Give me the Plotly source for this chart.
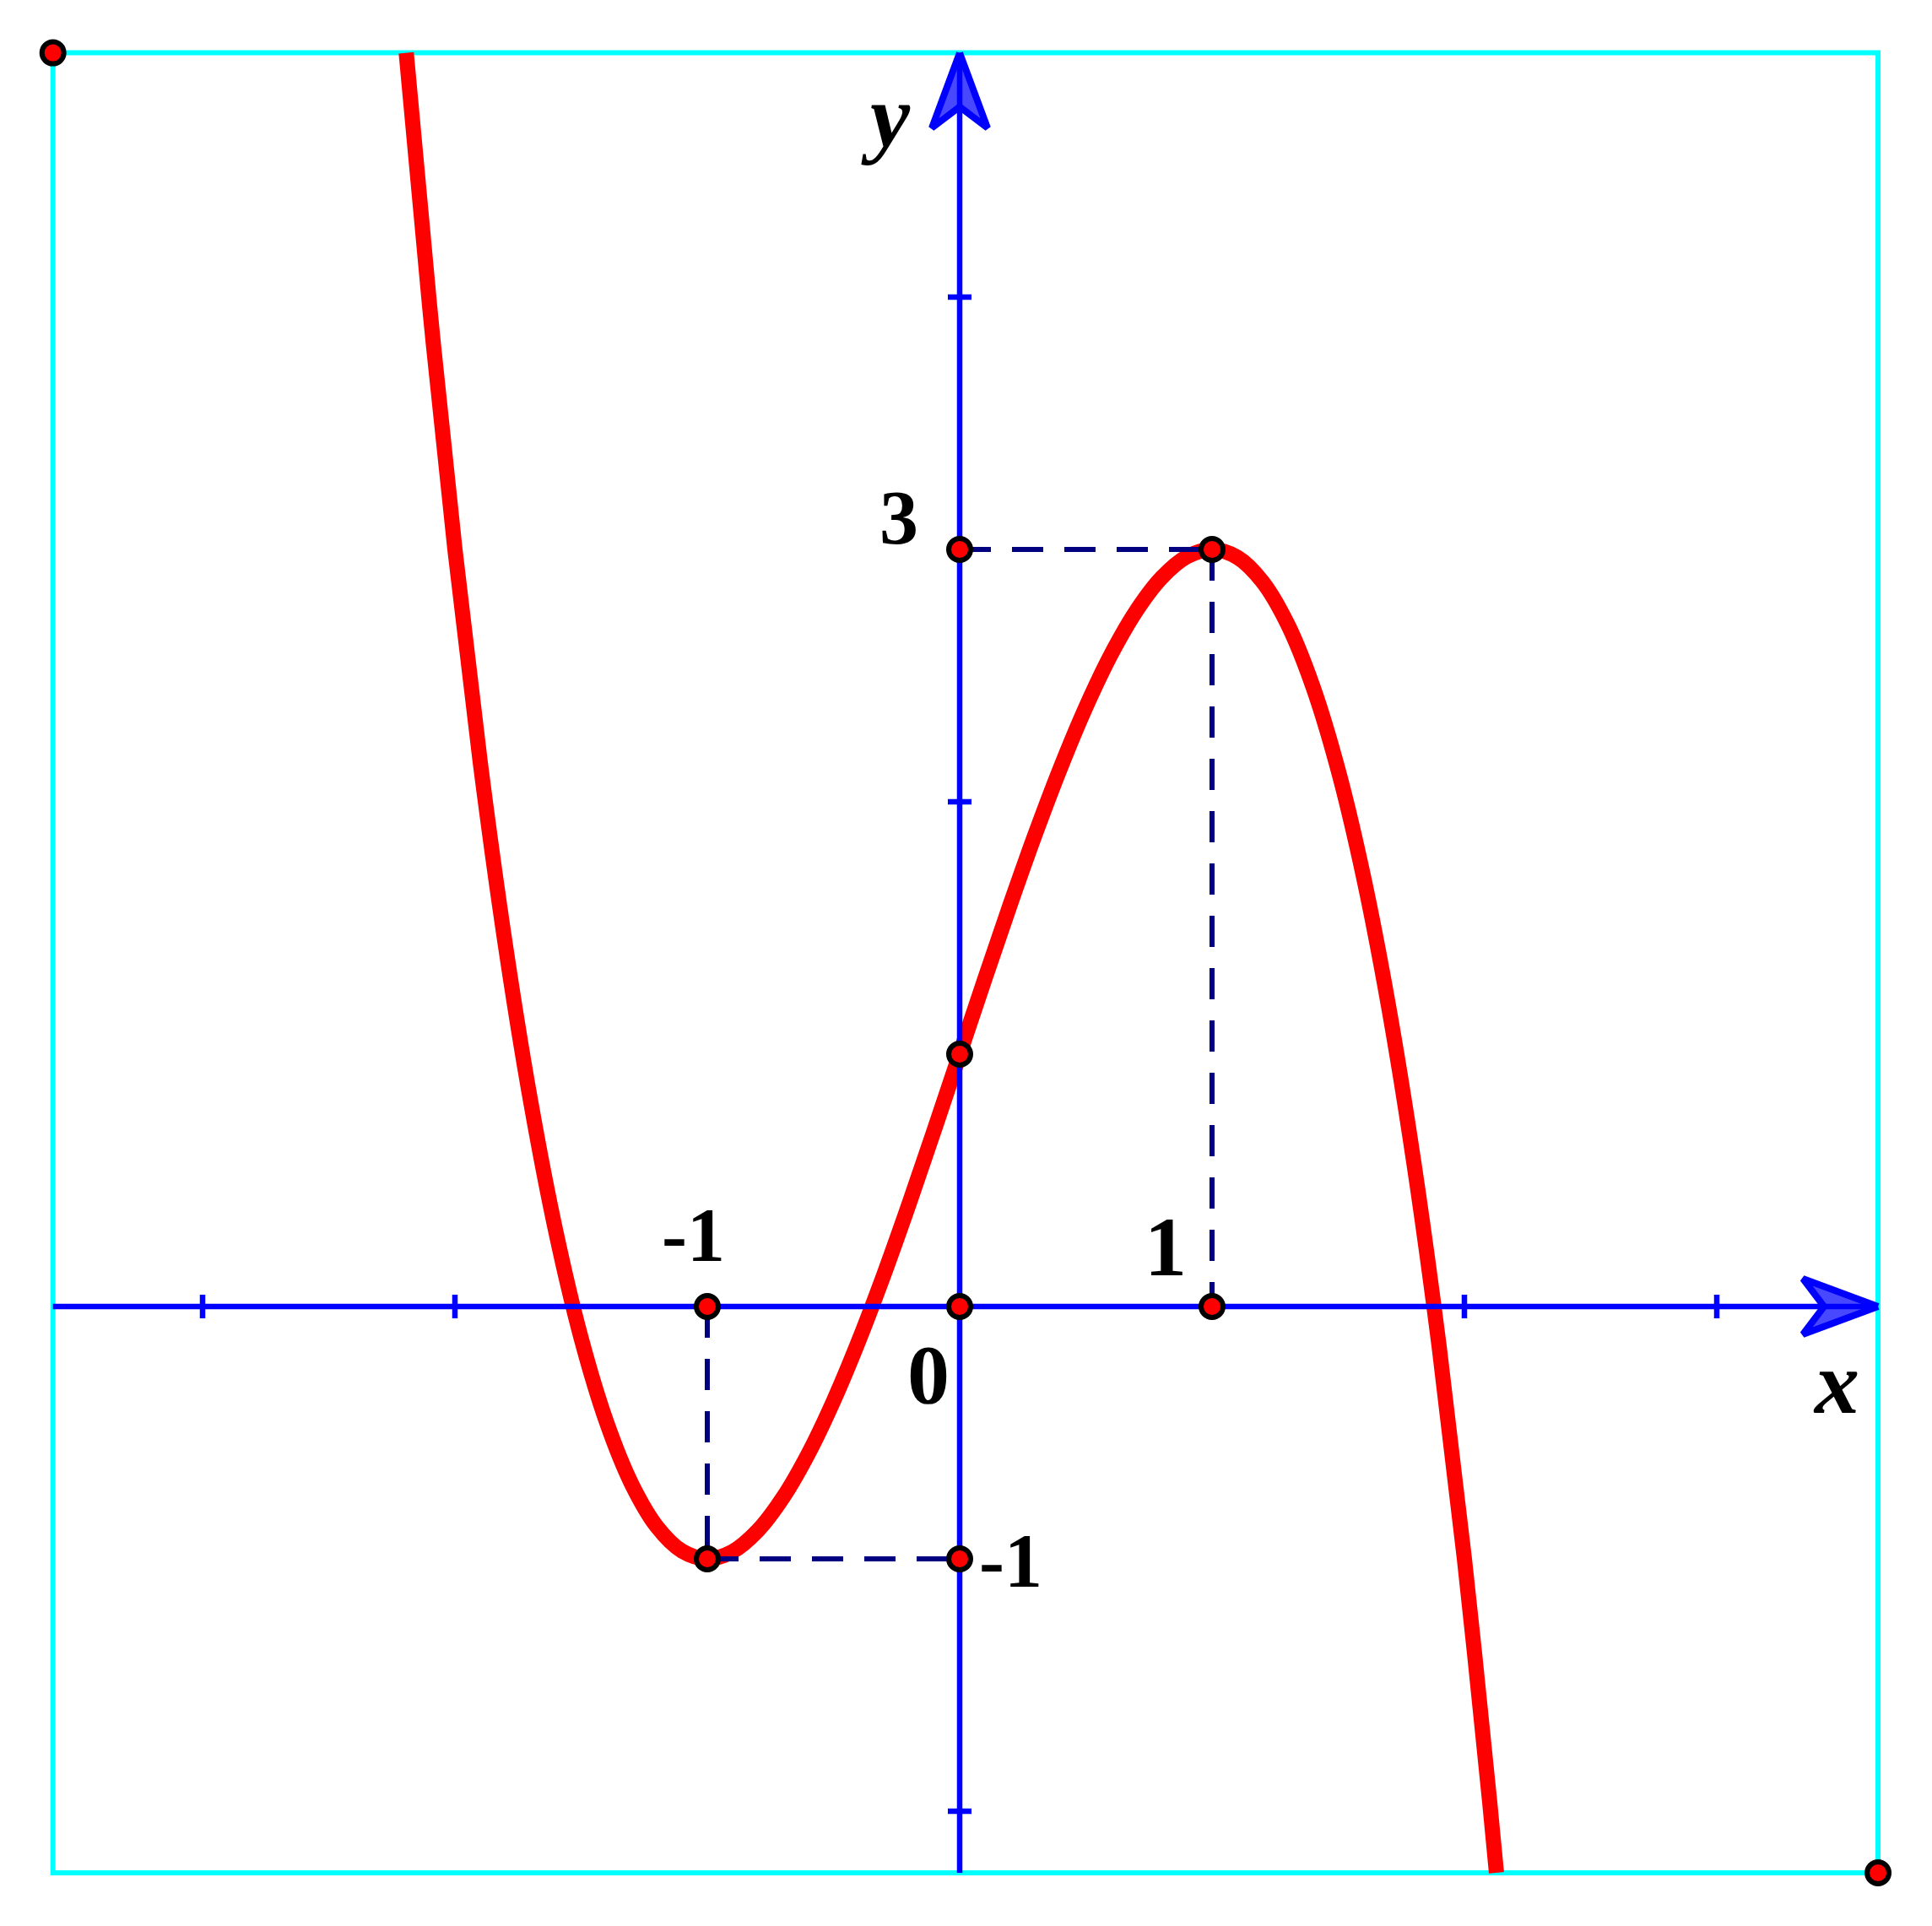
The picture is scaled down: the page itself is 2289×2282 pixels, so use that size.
import plotly.graph_objects as go

# ---------------- data ----------------
curve_x = [-2.193, -2.1, -2.0, -1.9, -1.8, -1.7, -1.6, -1.5, -1.4, -1.3, -1.2, -1.1, -1.0,
           -0.9, -0.8, -0.7, -0.6, -0.5, -0.4, -0.3, -0.2, -0.1, 0.0,
           0.1, 0.2, 0.3, 0.4, 0.5, 0.6, 0.7, 0.8, 0.9, 1.0,
           1.1, 1.2, 1.3, 1.4, 1.5, 1.6, 1.7, 1.8, 1.9, 2.0, 2.1, 2.127]
curve_y = [4.968, 3.961, 3.0, 2.159, 1.432, 0.813, 0.296, -0.125, -0.456, -0.703, -0.872, -0.969, -1.0,
           -0.971, -0.888, -0.757, -0.584, -0.375, -0.136, 0.127, 0.408, 0.701, 1.0,
           1.299, 1.592, 1.873, 2.136, 2.375, 2.584, 2.757, 2.888, 2.971, 3.0,
           2.969, 2.872, 2.703, 2.456, 2.125, 1.704, 1.187, 0.568, -0.159, -1.0, -1.961, -2.244]

# view window of the drawing (frame)
win_x = [-3.593, 3.639]
win_y = [-2.244, 4.968]

x_ticks = [-3, -2, -1, 1, 2, 3]
y_ticks = [-2, -1, 1, 2, 4]

# key points
pts_x = [-1, 0, 1, 0, 0, -1, 0, 1]
pts_y = [0, 0, 0, 3, 1, -1, -1, 3]

# dashed guide segments: (x0, y0, x1, y1)
guides = [(0, 3, 1, 3), (1, 3, 1, 0), (-1, 0, -1, -1), (-1, -1, 0, -1)]

labels = [("3", -0.241, 3.127, 92, "normal"),
          ("-1", -1.054, 0.284, 90, "normal"),
          ("0", -0.124, -0.268, 100, "normal"),
          ("-1", 0.201, -1.010, 90, "normal"),
          ("1", 0.816, 0.237, 100, "normal"),
          ("y", -0.291, 4.716, 106, "italic"),
          ("x", 3.472, -0.301, 106, "italic")]

# ---------------- layout geometry ----------------
PAGE_OFF = 8             # default body margin of the html page
W, H = 2289 - 2 * PAGE_OFF, 2282 - 2 * PAGE_OFF
PX_UNIT = 299.0          # pixels per unit
ORIGIN_PX = (1137 - PAGE_OFF, 1548 - PAGE_OFF)
x_range = [-ORIGIN_PX[0] / PX_UNIT, (W - ORIGIN_PX[0]) / PX_UNIT]
y_range = [(ORIGIN_PX[1] - H) / PX_UNIT, ORIGIN_PX[1] / PX_UNIT]

def u(px):
    return px / PX_UNIT

BLUE = "rgb(0,0,255)"
CYAN = "rgb(0,255,255)"
NAVY = "rgb(0,0,128)"
RED = "rgb(255,0,0)"

fig = go.Figure()

# frame
fig.add_trace(go.Scatter(
    x=[win_x[0], win_x[1], win_x[1], win_x[0], win_x[0]],
    y=[win_y[1], win_y[1], win_y[0], win_y[0], win_y[1]],
    mode="lines", line=dict(color=CYAN, width=6), hoverinfo="skip"))

# curve
fig.add_trace(go.Scatter(x=curve_x, y=curve_y, mode="lines",
                         line=dict(color=RED, width=18, shape="spline", smoothing=1.0),
                         hoverinfo="skip"))

# arrowheads
L, HW, NOTCH = u(89), u(33), u(64)
xa = win_x[1]
fig.add_trace(go.Scatter(
    x=[xa, xa - L, xa - NOTCH, xa - L, xa], y=[0, HW, 0, -HW, 0],
    mode="lines", fill="toself", fillcolor="rgb(72,72,255)",
    line=dict(color=BLUE, width=8), hoverinfo="skip"))
ya = win_y[1]
fig.add_trace(go.Scatter(
    x=[0, HW, 0, -HW, 0], y=[ya, ya - L, ya - NOTCH, ya - L, ya],
    mode="lines", fill="toself", fillcolor="rgb(72,72,255)",
    line=dict(color=BLUE, width=8), hoverinfo="skip"))

# axes
fig.add_trace(go.Scatter(x=[win_x[0], win_x[1], None, 0, 0],
                         y=[0, 0, None, win_y[0], win_y[1]],
                         mode="lines", line=dict(color=BLUE, width=6.5), hoverinfo="skip"))

# ticks
tl = u(14)
tx, ty = [], []
for t in x_ticks:
    tx += [t, t, None]
    ty += [-tl, tl, None]
for t in y_ticks:
    tx += [-tl, tl, None]
    ty += [t, t, None]
fig.add_trace(go.Scatter(x=tx, y=ty, mode="lines", line=dict(color=BLUE, width=6.5),
                         hoverinfo="skip"))

# dashed guides
for (x0, y0, x1, y1) in guides:
    fig.add_trace(go.Scatter(x=[x0, x1], y=[y0, y1], mode="lines",
                             line=dict(color=NAVY, width=6, dash="37px,25px"),
                             hoverinfo="skip"))

# points
fig.add_trace(go.Scatter(
    x=pts_x + [win_x[0], win_x[1]], y=pts_y + [win_y[1], win_y[0]],
    mode="markers",
    marker=dict(size=26, color=RED, line=dict(color="black", width=6)),
    hoverinfo="skip", cliponaxis=False))

for text, lx, ly, size, style in labels:
    fig.add_annotation(x=lx, y=ly, xref="x", yref="y", text=text, showarrow=False,
                       xanchor="center", yanchor="middle",
                       font=dict(family="Liberation Serif", size=size, color="black",
                                 weight="bold", style=style))

fig.update_layout(
    width=W, height=H, margin=dict(l=0, r=0, t=0, b=0),
    paper_bgcolor="white", plot_bgcolor="white", showlegend=False,
    xaxis=dict(range=x_range, visible=False, fixedrange=True),
    yaxis=dict(range=y_range, visible=False, fixedrange=True),
)

fig.write_html("out.html")
